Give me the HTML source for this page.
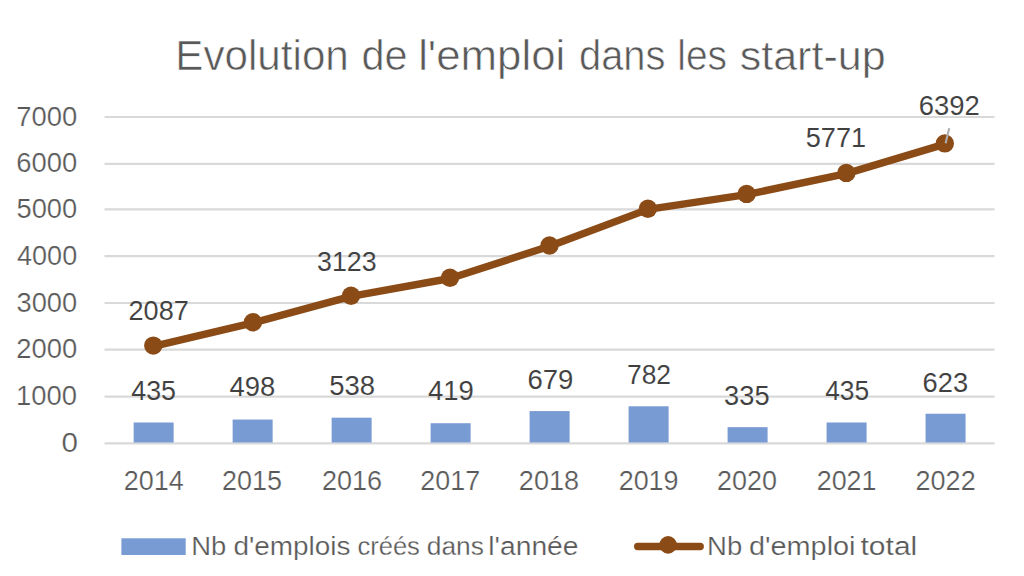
<!DOCTYPE html>
<html><head><meta charset="utf-8"><style>
html,body{margin:0;padding:0;background:#fff;width:1024px;height:576px;overflow:hidden}
svg{display:block}
</style></head><body>
<svg width="1024" height="576" viewBox="0 0 1024 576">
<rect width="1024" height="576" fill="#fff"/>
<g>
<line x1="104.5" x2="994.5" y1="443.3" y2="443.3" stroke="#D9D9D9" stroke-width="2.2"/>
<line x1="104.5" x2="994.5" y1="396.6" y2="396.6" stroke="#D9D9D9" stroke-width="2.2"/>
<line x1="104.5" x2="994.5" y1="349.7" y2="349.7" stroke="#D9D9D9" stroke-width="2.2"/>
<line x1="104.5" x2="994.5" y1="303.0" y2="303.0" stroke="#D9D9D9" stroke-width="2.2"/>
<line x1="104.5" x2="994.5" y1="256.2" y2="256.2" stroke="#D9D9D9" stroke-width="2.2"/>
<line x1="104.5" x2="994.5" y1="209.3" y2="209.3" stroke="#D9D9D9" stroke-width="2.2"/>
<line x1="104.5" x2="994.5" y1="163.9" y2="163.9" stroke="#D9D9D9" stroke-width="2.2"/>
<line x1="104.5" x2="994.5" y1="117.0" y2="117.0" stroke="#D9D9D9" stroke-width="2.2"/>
<rect x="133.65" y="422.49" width="40.0" height="20.01" fill="#789BD3"/>
<rect x="232.64" y="419.54" width="40.0" height="22.96" fill="#789BD3"/>
<rect x="331.63" y="417.68" width="40.0" height="24.82" fill="#789BD3"/>
<rect x="430.62" y="423.23" width="40.0" height="19.27" fill="#789BD3"/>
<rect x="529.61" y="411.09" width="40.0" height="31.41" fill="#789BD3"/>
<rect x="628.60" y="406.28" width="40.0" height="36.22" fill="#789BD3"/>
<rect x="727.59" y="427.16" width="40.0" height="15.34" fill="#789BD3"/>
<rect x="826.58" y="422.49" width="40.0" height="20.01" fill="#789BD3"/>
<rect x="925.57" y="413.71" width="40.0" height="28.79" fill="#789BD3"/>
<polyline points="153.3,346.3 252.9,322.9 351.0,296.4 450.0,278.5 549.5,246.2 647.9,209.4 746.6,194.6 846.3,173.6 944.8,144.1" fill="none" stroke="#8B4B17" stroke-width="7.4" stroke-linejoin="round" stroke-linecap="round"/>
<circle cx="153.3" cy="345.6" r="9.2" fill="#8B4B17"/>
<circle cx="252.9" cy="322.2" r="9.2" fill="#8B4B17"/>
<circle cx="351.0" cy="295.7" r="9.2" fill="#8B4B17"/>
<circle cx="450.0" cy="277.8" r="9.2" fill="#8B4B17"/>
<circle cx="549.5" cy="245.5" r="9.2" fill="#8B4B17"/>
<circle cx="647.9" cy="208.7" r="9.2" fill="#8B4B17"/>
<circle cx="746.6" cy="193.9" r="9.2" fill="#8B4B17"/>
<circle cx="846.3" cy="172.9" r="9.2" fill="#8B4B17"/>
<circle cx="944.8" cy="143.4" r="9.2" fill="#8B4B17"/>
<line x1="949.2" y1="128.3" x2="945.6" y2="143.3" stroke="#ADADAD" stroke-width="2.1"/>
<text transform="translate(175.32,70.00) scale(1.0142,1)" font-family="Liberation Sans, sans-serif" font-size="41.6" fill="#595959" stroke="#fff" stroke-width="0.592">Evolution</text>
<text transform="translate(361.44,70.00) scale(0.9965,1)" font-family="Liberation Sans, sans-serif" font-size="41.6" fill="#595959" stroke="#fff" stroke-width="0.602">de</text>
<text transform="translate(418.13,70.00) scale(1.0534,1)" font-family="Liberation Sans, sans-serif" font-size="41.6" fill="#595959" stroke="#fff" stroke-width="0.570">l&#39;emploi</text>
<text transform="translate(579.00,70.00) scale(0.9592,1)" font-family="Liberation Sans, sans-serif" font-size="41.6" fill="#595959" stroke="#fff" stroke-width="0.625">dans</text>
<text transform="translate(677.28,70.00) scale(0.9348,1)" font-family="Liberation Sans, sans-serif" font-size="41.6" fill="#595959" stroke="#fff" stroke-width="0.642">les</text>
<text transform="translate(739.71,70.00) scale(1.0347,1)" font-family="Liberation Sans, sans-serif" font-size="41.6" fill="#595959" stroke="#fff" stroke-width="0.580">start-up</text>
<text transform="translate(61.62,451.80) scale(1.1039,1)" font-family="Liberation Sans, sans-serif" font-size="26.8" fill="#595959" stroke="#fff" stroke-width="0.226">0</text>
<text transform="translate(16.01,405.10) scale(1.0235,1)" font-family="Liberation Sans, sans-serif" font-size="26.8" fill="#595959" stroke="#fff" stroke-width="0.244">1000</text>
<text transform="translate(16.23,358.20) scale(1.0231,1)" font-family="Liberation Sans, sans-serif" font-size="26.8" fill="#595959" stroke="#fff" stroke-width="0.244">2000</text>
<text transform="translate(16.51,311.50) scale(1.0183,1)" font-family="Liberation Sans, sans-serif" font-size="26.8" fill="#595959" stroke="#fff" stroke-width="0.246">3000</text>
<text transform="translate(17.06,264.70) scale(1.0088,1)" font-family="Liberation Sans, sans-serif" font-size="26.8" fill="#595959" stroke="#fff" stroke-width="0.248">4000</text>
<text transform="translate(16.51,217.80) scale(1.0183,1)" font-family="Liberation Sans, sans-serif" font-size="26.8" fill="#595959" stroke="#fff" stroke-width="0.246">5000</text>
<text transform="translate(16.23,172.40) scale(1.0231,1)" font-family="Liberation Sans, sans-serif" font-size="26.8" fill="#595959" stroke="#fff" stroke-width="0.244">6000</text>
<text transform="translate(16.23,125.50) scale(1.0231,1)" font-family="Liberation Sans, sans-serif" font-size="26.8" fill="#595959" stroke="#fff" stroke-width="0.244">7000</text>
<text transform="translate(123.75,489.90) scale(1.0078,1)" font-family="Liberation Sans, sans-serif" font-size="26.8" fill="#595959" stroke="#fff" stroke-width="0.248">2014</text>
<text transform="translate(221.95,489.90) scale(1.0055,1)" font-family="Liberation Sans, sans-serif" font-size="26.8" fill="#595959" stroke="#fff" stroke-width="0.249">2015</text>
<text transform="translate(321.95,489.90) scale(1.0090,1)" font-family="Liberation Sans, sans-serif" font-size="26.8" fill="#595959" stroke="#fff" stroke-width="0.248">2016</text>
<text transform="translate(420.36,489.90) scale(1.0015,1)" font-family="Liberation Sans, sans-serif" font-size="26.8" fill="#595959" stroke="#fff" stroke-width="0.250">2017</text>
<text transform="translate(518.85,489.90) scale(1.0090,1)" font-family="Liberation Sans, sans-serif" font-size="26.8" fill="#595959" stroke="#fff" stroke-width="0.248">2018</text>
<text transform="translate(618.65,489.90) scale(1.0055,1)" font-family="Liberation Sans, sans-serif" font-size="26.8" fill="#595959" stroke="#fff" stroke-width="0.249">2019</text>
<text transform="translate(717.05,489.90) scale(1.0055,1)" font-family="Liberation Sans, sans-serif" font-size="26.8" fill="#595959" stroke="#fff" stroke-width="0.249">2020</text>
<text transform="translate(816.65,489.90) scale(1.0050,1)" font-family="Liberation Sans, sans-serif" font-size="26.8" fill="#595959" stroke="#fff" stroke-width="0.249">2021</text>
<text transform="translate(915.55,489.90) scale(1.0085,1)" font-family="Liberation Sans, sans-serif" font-size="26.8" fill="#595959" stroke="#fff" stroke-width="0.248">2022</text>
<text transform="translate(131.26,399.70) scale(1.0012,1)" font-family="Liberation Sans, sans-serif" font-size="26.8" fill="#404040" stroke="#fff" stroke-width="0.100">435</text>
<text transform="translate(229.55,395.90) scale(1.0238,1)" font-family="Liberation Sans, sans-serif" font-size="26.8" fill="#404040" stroke="#fff" stroke-width="0.098">498</text>
<text transform="translate(329.30,394.60) scale(1.0249,1)" font-family="Liberation Sans, sans-serif" font-size="26.8" fill="#404040" stroke="#fff" stroke-width="0.098">538</text>
<text transform="translate(427.95,399.90) scale(1.0261,1)" font-family="Liberation Sans, sans-serif" font-size="26.8" fill="#404040" stroke="#fff" stroke-width="0.097">419</text>
<text transform="translate(527.42,389.00) scale(1.0267,1)" font-family="Liberation Sans, sans-serif" font-size="26.8" fill="#404040" stroke="#fff" stroke-width="0.097">679</text>
<text transform="translate(626.98,383.90) scale(0.9863,1)" font-family="Liberation Sans, sans-serif" font-size="26.8" fill="#404040" stroke="#fff" stroke-width="0.101">782</text>
<text transform="translate(724.11,405.10) scale(1.0185,1)" font-family="Liberation Sans, sans-serif" font-size="26.8" fill="#404040" stroke="#fff" stroke-width="0.098">335</text>
<text transform="translate(825.17,400.00) scale(0.9850,1)" font-family="Liberation Sans, sans-serif" font-size="26.8" fill="#404040" stroke="#fff" stroke-width="0.102">435</text>
<text transform="translate(922.53,391.60) scale(1.0196,1)" font-family="Liberation Sans, sans-serif" font-size="26.8" fill="#404040" stroke="#fff" stroke-width="0.098">623</text>
<text transform="translate(128.55,319.70) scale(1.0103,1)" font-family="Liberation Sans, sans-serif" font-size="26.8" fill="#404040" stroke="#fff" stroke-width="0.099">2087</text>
<text transform="translate(317.03,270.70) scale(1.0008,1)" font-family="Liberation Sans, sans-serif" font-size="26.8" fill="#404040" stroke="#fff" stroke-width="0.100">3123</text>
<text transform="translate(805.71,147.30) scale(1.0125,1)" font-family="Liberation Sans, sans-serif" font-size="26.8" fill="#404040" stroke="#fff" stroke-width="0.099">5771</text>
<text transform="translate(918.73,115.10) scale(1.0244,1)" font-family="Liberation Sans, sans-serif" font-size="26.8" fill="#404040" stroke="#fff" stroke-width="0.098">6392</text>
<rect x="121.4" y="538.3" width="64.3" height="16.7" fill="#789BD3"/>
<text transform="translate(191.31,554.90) scale(1.0306,1)" font-family="Liberation Sans, sans-serif" font-size="26.6" fill="#595959" stroke="#fff" stroke-width="0.243">Nb</text>
<text transform="translate(233.38,554.90) scale(1.0493,1)" font-family="Liberation Sans, sans-serif" font-size="26.6" fill="#595959" stroke="#fff" stroke-width="0.238">d&#39;emplois</text>
<text transform="translate(357.48,554.90) scale(0.9597,1)" font-family="Liberation Sans, sans-serif" font-size="26.6" fill="#595959" stroke="#fff" stroke-width="0.261">créés</text>
<text transform="translate(426.75,554.90) scale(0.9911,1)" font-family="Liberation Sans, sans-serif" font-size="26.6" fill="#595959" stroke="#fff" stroke-width="0.252">dans</text>
<text transform="translate(488.32,554.90) scale(1.0619,1)" font-family="Liberation Sans, sans-serif" font-size="26.6" fill="#595959" stroke="#fff" stroke-width="0.235">l&#39;année</text>
<line x1="637.7" y1="546.5" x2="700.2" y2="546.5" stroke="#8B4B17" stroke-width="7.4" stroke-linecap="round"/>
<circle cx="668.1" cy="544.9" r="8.8" fill="#8B4B17"/>
<text transform="translate(707.10,554.90) scale(1.0338,1)" font-family="Liberation Sans, sans-serif" font-size="26.6" fill="#595959" stroke="#fff" stroke-width="0.242">Nb</text>
<text transform="translate(748.95,554.90) scale(1.0848,1)" font-family="Liberation Sans, sans-serif" font-size="26.6" fill="#595959" stroke="#fff" stroke-width="0.230">d&#39;emploi</text>
<text transform="translate(860.50,554.90) scale(1.1299,1)" font-family="Liberation Sans, sans-serif" font-size="26.6" fill="#595959" stroke="#fff" stroke-width="0.221">total</text>
</g>
</svg>
</body></html>
